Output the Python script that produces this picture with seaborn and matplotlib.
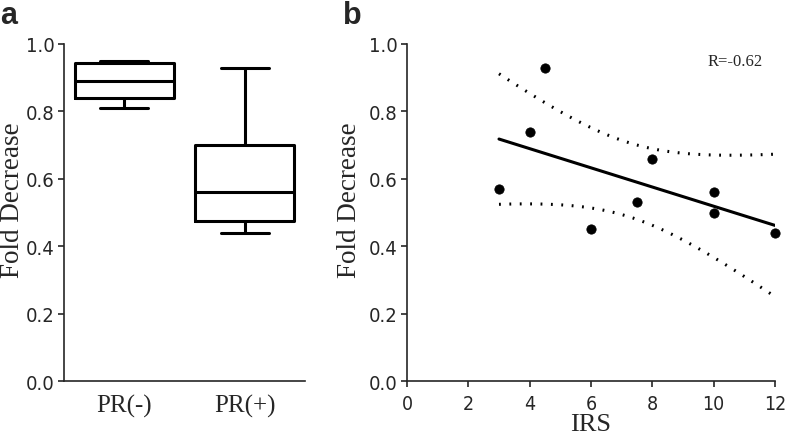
import numpy as np
import pandas as pd
import seaborn as sns
import matplotlib.pyplot as plt
from matplotlib import font_manager

# panel a: five-number summaries (min, Q1, median, Q3, max)
groups = ["PR(-)", "PR(+)"]
pr_neg = [0.81, 0.84, 0.89, 0.945, 0.95]
pr_pos = [0.44, 0.475, 0.56, 0.70, 0.93]

# panel b: IRS vs fold decrease
irs = [3, 4, 4.5, 6, 7.5, 8, 10, 10, 12]
fold = [0.57, 0.74, 0.93, 0.45, 0.53, 0.66, 0.56, 0.50, 0.44]
r_label = "R=-0.62"


def pick_font(names, stretch="normal"):
    for name in names:
        try:
            font_manager.findfont(font_manager.FontProperties(family=name, stretch=stretch),
                                  fallback_to_default=False)
            return name
        except Exception:
            pass
    return "DejaVu Sans"


narrow = pick_font(["Liberation Sans Narrow", "DejaVu Sans Condensed"], "condensed")

sns.set_style("ticks")
plt.rcParams["font.family"] = [narrow, "Liberation Sans", "DejaVu Sans"]
plt.rcParams["font.stretch"] = "condensed"
plt.rcParams["axes.linewidth"] = 1.2
plt.rcParams["xtick.major.width"] = 1.2
plt.rcParams["ytick.major.width"] = 1.2
plt.rcParams["xtick.major.size"] = 4.5
plt.rcParams["ytick.major.size"] = 4.5
plt.rcParams["xtick.major.pad"] = 4.5
plt.rcParams["ytick.major.pad"] = 2

serif = ["Liberation Serif", "DejaVu Serif"]

fig = plt.figure(figsize=(7.88, 4.39), dpi=100)
ax1 = fig.add_axes([0.0812, 0.1298, 0.3058, 0.7677])
ax2 = fig.add_axes([0.5165, 0.1298, 0.4670, 0.7677])

# --- panel a: box plot, whiskers min to max
box_df = pd.DataFrame({
    "group": [groups[0]] * len(pr_neg) + [groups[1]] * len(pr_pos),
    "value": pr_neg + pr_pos,
})
sns.boxplot(data=box_df, x="group", y="value", ax=ax1, whis=(0, 100),
            fill=False, color="black", linecolor="black", linewidth=2.2,
            width=0.82, capwidths=0.4)
ax1.set_xlim(-0.5, 1.5)
ax1.set_ylim(0, 1.0)
ax1.set_yticks([0, 0.2, 0.4, 0.6, 0.8, 1.0])
ax1.set_yticklabels(["0.0", "0.2", "0.4", "0.6", "0.8", "1.0"], fontsize=14.5)
ax1.set_xticks([0, 1])
ax1.set_xticklabels(groups, fontsize=18, family=serif, stretch="normal")
ax1.tick_params(axis="x", length=0, pad=9)
ax1.set_xlabel("")
ax1.set_ylabel("Fold Decrease", fontsize=19.5, family=serif, stretch="normal")
ax1.yaxis.set_label_coords(-0.162, 0.54)
sns.despine(ax=ax1)

# --- panel b: scatter, linear fit and 95% confidence band
x = np.array(irs)
y = np.array(fold)
n = len(x)
slope, intercept = np.polyfit(x, y, 1)
grid = np.linspace(x.min(), x.max(), 100)
fit = intercept + slope * grid
resid = y - (intercept + slope * x)
s = np.sqrt(np.sum(resid ** 2) / (n - 2))
t = 2.365  # t(0.975, df=7)
half = t * s * np.sqrt(1 / n + (grid - x.mean()) ** 2 / np.sum((x - x.mean()) ** 2))

sns.regplot(x=x, y=y, ax=ax2, ci=None, scatter=False, color="black",
            line_kws={"linewidth": 2.2})
sns.lineplot(x=grid, y=fit + half, ax=ax2, color="black", linewidth=2.2,
             linestyle=(0, (0.6, 2.8)))
sns.lineplot(x=grid, y=fit - half, ax=ax2, color="black", linewidth=2.2,
             linestyle=(0, (0.6, 2.8)))
sns.scatterplot(x=x, y=y, ax=ax2, color="black", s=45, edgecolor="black",
                clip_on=False, zorder=5)
ax2.text(11.6, 0.95, r_label, fontsize=12, family=serif, stretch="normal",
         ha="right", va="center")
ax2.set_xlim(0, 12)
ax2.set_ylim(0, 1.0)
ax2.set_xticks(range(0, 13, 2))
ax2.set_xticklabels([str(v) for v in range(0, 13, 2)], fontsize=14)
ax2.set_yticks([0, 0.2, 0.4, 0.6, 0.8, 1.0])
ax2.set_yticklabels(["0.0", "0.2", "0.4", "0.6", "0.8", "1.0"], fontsize=14.5)
ax2.set_xlabel("IRS", fontsize=19, family=serif, stretch="normal", labelpad=0)
ax2.set_ylabel("Fold Decrease", fontsize=19.5, family=serif, stretch="normal")
ax2.yaxis.set_label_coords(-0.122, 0.54)
sns.despine(ax=ax2)

fig.text(0.0, 0.945, "a", fontsize=22, fontweight="bold",
         family=["Liberation Sans", "DejaVu Sans"], stretch="normal", va="baseline")
fig.text(0.435, 0.945, "b", fontsize=22, fontweight="bold",
         family=["Liberation Sans", "DejaVu Sans"], stretch="normal", va="baseline")

fig.savefig("out.png", dpi=100)
